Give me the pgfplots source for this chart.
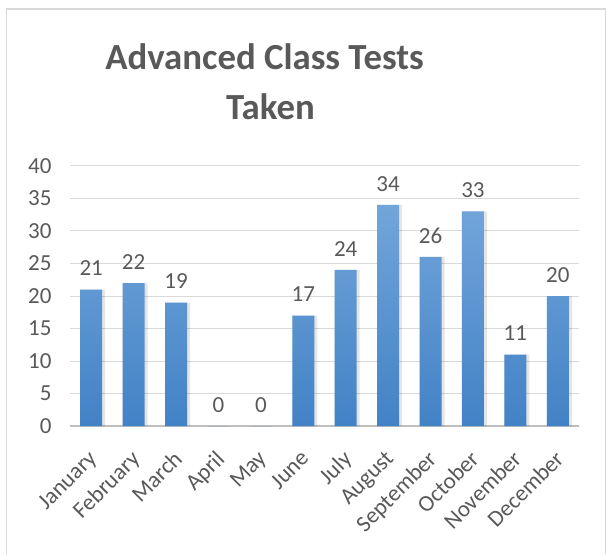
\documentclass[border=0pt]{standalone}
\usepackage{fontspec}
\setmainfont{Carlito}
\usepackage{pgfplots}
\pgfplotsset{compat=1.18}
\definecolor{txt}{HTML}{595959}
\definecolor{gridc}{HTML}{D9D9D9}
\definecolor{basec}{HTML}{BFBFBF}
\definecolor{bartop}{HTML}{72A5DA}
\definecolor{barbot}{HTML}{4282C6}
\pgfplotstableread{
x y
0 21
1 22
2 19
3 0
4 0
5 17
6 24
7 34
8 26
9 33
10 11
11 20
}\tests
\begin{document}
\begin{tikzpicture}[x=1pt,y=1pt]
\path[use as bounding box] (0,0) rectangle (607,554);
\draw[gridc, line width=1.2pt] (6.5,0) -- (6.5,545) -- (605.5,545) -- (605.5,0);
\node[txt, font=\fontsize{36.8}{44}\selectfont\bfseries, anchor=base] at (264.5,484) {Advanced Class Tests};
\node[txt, font=\fontsize{36.8}{44}\selectfont\bfseries, anchor=base] at (270.5,434) {Taken};
\begin{axis}[
  at={(70pt,128pt)}, anchor=south west,
  scale only axis, width=509pt, height=260pt,
  xmin=-0.5, xmax=11.5, ymin=0, ymax=40,
  ytick={0,5,...,40},
  xtick=data,
  xticklabels={January,February,March,April,May,June,July,August,September,October,November,December},
  /pgf/number format/assume math mode=true,
  axis line style={draw=none},
  major tick length=0pt,
  ymajorgrids,
  grid style={gridc, line width=1pt},
  tick label style={txt, font=\fontsize{23}{27}\selectfont},
  yticklabel style={anchor=east, xshift=-15pt},
  xticklabel style={anchor=north east, inner sep=0pt, xshift=-4pt, yshift=-23pt, rotate=45},
  ybar, bar width=22pt,
]
\draw[basec, line width=1.5pt] (axis cs:-0.5,0) -- (axis cs:11.5,0);
\addplot[draw=none, fill=black, opacity=0.10, bar width=25pt, bar shift=1.5pt, forget plot] table[x=x,y=y] {\tests};
\addplot[draw=none, top color=bartop, bottom color=barbot, bar shift=0pt,
  nodes near coords,
  every node near coord/.append style={txt, opacity=1, font=\fontsize{23}{27}\selectfont, yshift=10pt}] table[x=x,y=y] {\tests};
\end{axis}
\end{tikzpicture}
\end{document}
